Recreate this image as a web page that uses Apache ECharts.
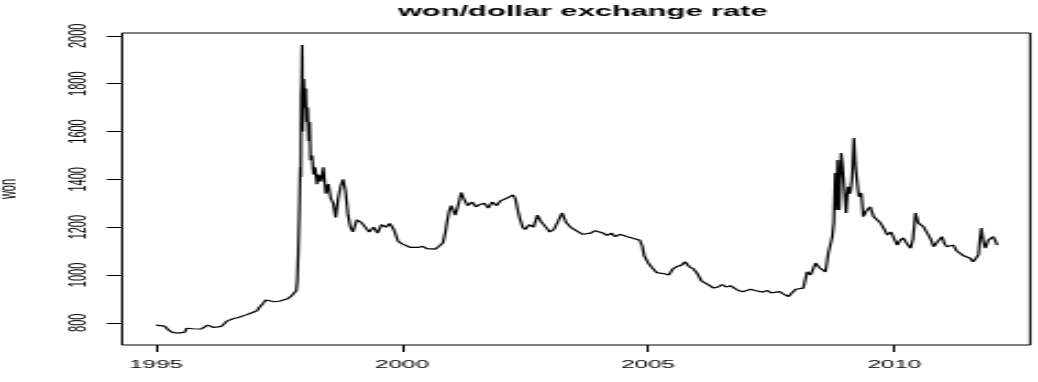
<!DOCTYPE html>
<html>
<head>
<meta charset="utf-8">
<title>won/dollar exchange rate</title>
<script src="https://cdn.jsdelivr.net/npm/echarts@6/dist/echarts.min.js"></script>
<style>
  html, body { margin: 0; padding: 0; background: #fff; overflow: hidden; }
  /* the original plot is stretched sideways, so draw narrow and widen it */
  #main { width: 472px; height: 382px; transform: scaleX(2.1992); transform-origin: 0 0; }
</style>
</head>
<body>
<div id="main"></div>
<script>
// decimal year of each reading
var years = [
  1995.00, 1995.08, 1995.17, 1995.25, 1995.33, 1995.42, 1995.50, 1995.58, 1995.62, 1995.67, 1995.75, 1995.83, 1995.92,
  1996.00, 1996.05, 1996.10, 1996.17, 1996.25, 1996.33, 1996.40, 1996.45, 1996.50, 1996.58, 1996.67, 1996.75, 1996.83, 1996.92,
  1997.00, 1997.05, 1997.10, 1997.17, 1997.23, 1997.30, 1997.40, 1997.50, 1997.58, 1997.67, 1997.75, 1997.82, 1997.85,
  1997.87, 1997.89, 1997.91, 1997.93, 1997.94, 1997.95, 1997.96, 1997.97, 1997.98, 1997.99,
  1998.00, 1998.02, 1998.04, 1998.06, 1998.08, 1998.10, 1998.12, 1998.14, 1998.17, 1998.20, 1998.23, 1998.27, 1998.30,
  1998.35, 1998.40, 1998.45, 1998.50, 1998.55, 1998.60, 1998.65, 1998.70, 1998.75, 1998.80, 1998.85, 1998.90, 1998.95,
  1999.00, 1999.08, 1999.17, 1999.25, 1999.33, 1999.42, 1999.50, 1999.58, 1999.67, 1999.75, 1999.83, 1999.92,
  2000.00, 2000.08, 2000.17, 2000.25, 2000.33, 2000.42, 2000.50, 2000.58, 2000.67, 2000.75, 2000.83, 2000.88, 2000.92, 2000.96,
  2001.00, 2001.08, 2001.15, 2001.20, 2001.25, 2001.33, 2001.42, 2001.50, 2001.58, 2001.67, 2001.75, 2001.83, 2001.92,
  2002.00, 2002.08, 2002.17, 2002.25, 2002.30, 2002.35, 2002.40, 2002.45, 2002.50, 2002.58, 2002.67, 2002.75, 2002.83, 2002.92,
  2003.00, 2003.08, 2003.17, 2003.25, 2003.33, 2003.42, 2003.50, 2003.58, 2003.67, 2003.75, 2003.83, 2003.92,
  2004.00, 2004.08, 2004.17, 2004.25, 2004.33, 2004.42, 2004.50, 2004.58, 2004.67, 2004.75, 2004.83, 2004.88, 2004.92,
  2005.00, 2005.08, 2005.17, 2005.25, 2005.33, 2005.42, 2005.50, 2005.58, 2005.67, 2005.75, 2005.83, 2005.92,
  2006.00, 2006.08, 2006.17, 2006.25, 2006.33, 2006.42, 2006.50, 2006.58, 2006.67, 2006.75, 2006.83, 2006.92,
  2007.00, 2007.08, 2007.17, 2007.25, 2007.33, 2007.42, 2007.50, 2007.58, 2007.67, 2007.75, 2007.85, 2007.92,
  2008.00, 2008.08, 2008.15, 2008.23, 2008.30, 2008.40, 2008.48, 2008.55, 2008.60, 2008.66, 2008.74, 2008.77,
  2008.80, 2008.82, 2008.85, 2008.88, 2008.92, 2008.95,
  2009.02, 2009.06, 2009.10, 2009.14, 2009.18, 2009.21, 2009.24, 2009.28, 2009.33, 2009.37, 2009.44, 2009.51,
  2009.58, 2009.65, 2009.72, 2009.80, 2009.86, 2009.93, 2009.98,
  2010.06, 2010.12, 2010.18, 2010.26, 2010.33, 2010.38, 2010.43, 2010.49, 2010.55, 2010.59, 2010.67, 2010.74,
  2010.80, 2010.88, 2010.97,
  2011.02, 2011.07, 2011.14, 2011.20, 2011.27, 2011.34, 2011.41, 2011.48, 2011.54, 2011.60, 2011.66, 2011.71,
  2011.74, 2011.77, 2011.81, 2011.85, 2011.91, 2011.96,
  2012.01, 2012.05, 2012.09
];

// won per dollar
var won = [
  790, 792, 786, 770, 760, 757, 758, 760, 777, 772, 775, 770, 774,
  778, 790, 782, 780, 782, 785, 783, 808, 812, 818, 822, 828, 833, 840,
  845, 850, 865, 880, 895, 892, 888, 890, 893, 900, 912, 920, 935,
  980, 1100, 1250, 1450, 1410, 1750, 1800, 1962, 1600, 1750,
  1820, 1700, 1780, 1640, 1700, 1560, 1640, 1480, 1500, 1420, 1450, 1380, 1420,
  1390, 1450, 1340, 1380, 1320, 1300, 1240, 1320, 1370, 1400, 1350, 1250, 1200,
  1180, 1230, 1220, 1200, 1180, 1200, 1175, 1210, 1200, 1215, 1190, 1140,
  1130, 1125, 1115, 1110, 1115, 1120, 1110, 1112, 1108, 1120, 1135, 1180, 1230, 1270,
  1290, 1250, 1300, 1345, 1320, 1290, 1305, 1285, 1295, 1300, 1280, 1305, 1290,
  1310, 1315, 1325, 1335, 1320, 1270, 1230, 1200, 1190, 1210, 1200, 1250, 1220, 1200,
  1180, 1190, 1225, 1260, 1220, 1200, 1190, 1180, 1170, 1165, 1175, 1185,
  1190, 1175, 1165, 1175, 1160, 1170, 1165, 1160, 1155, 1160, 1145, 1120, 1080,
  1050, 1030, 1010, 1015, 1005, 1000, 1025, 1035, 1040, 1055, 1035, 1025,
  1005, 975, 965, 955, 945, 950, 960, 950, 955, 945, 935, 930,
  935, 940, 935, 930, 928, 935, 925, 920, 930, 920, 910, 925,
  940, 945, 945, 1013, 1000, 1050, 1030, 1034, 1013, 1092, 1160, 1217,
  1426, 1272, 1481, 1272, 1510, 1453,
  1259, 1369, 1340, 1397, 1573, 1460, 1397, 1327, 1343, 1244, 1270, 1285,
  1244, 1251, 1217, 1190, 1167, 1180, 1175,
  1125, 1145, 1155, 1130, 1112, 1150, 1259, 1217, 1210, 1202, 1175, 1150,
  1118, 1140, 1160,
  1130, 1118, 1115, 1125, 1100, 1092, 1080, 1085, 1070, 1055, 1070, 1085,
  1150, 1196, 1140, 1112, 1146, 1150,
  1160, 1145, 1125
];

var yearTicks = [1995, 2000, 2005, 2010];
var wonTicks = [800, 1000, 1200, 1400, 1600, 1800, 2000];

var chart = echarts.init(document.getElementById('main'), null, { renderer: 'canvas' });

var lineData = years.map(function (y, i) { return [y, won[i]]; });

// plain numbers, no thousands separator
function plain (v) { return String(v); }

var option = {
  animation: false,
  backgroundColor: '#fff',
  textStyle: { fontFamily: 'Liberation Sans' },
  title: {
    text: 'won/dollar exchange rate',
    left: 260,
    textAlign: 'center',
    top: 0,
    textStyle: {
      fontFamily: 'Liberation Sans',
      fontWeight: 'bold',
      fontSize: 14,
      color: '#000'
    }
  },
  grid: {
    left: 55.5,
    right: 3.6,
    top: 33,
    bottom: 37,
    outerBoundsMode: 'none',
    containLabel: false,
    show: true,
    borderColor: '#000',
    borderWidth: 1,
    backgroundColor: 'transparent'
  },
  xAxis: {
    type: 'value',
    min: 1994.31,
    max: 2012.76,
    axisLine: { show: false },
    splitLine: { show: false },
    axisTick: {
      show: true,
      inside: false,
      length: 7,
      customValues: yearTicks,
      lineStyle: { color: '#000', width: 1 }
    },
    axisLabel: {
      customValues: yearTicks,
      formatter: plain,
      margin: 14,
      fontSize: 11,
      color: '#000',
      fontFamily: 'Liberation Sans'
    }
  },
  yAxis: {
    type: 'value',
    min: 707,
    max: 2012,
    name: 'won',
    nameLocation: 'middle',
    nameRotate: 90,
    nameGap: 46,
    nameTextStyle: { fontSize: 11, color: '#000', fontFamily: 'Liberation Sans' },
    axisLine: { show: false },
    splitLine: { show: false },
    axisTick: {
      show: true,
      inside: false,
      length: 7,
      customValues: wonTicks,
      lineStyle: { color: '#000', width: 1 }
    },
    axisLabel: {
      customValues: wonTicks,
      formatter: plain,
      rotate: 90,
      margin: 14,
      fontSize: 11,
      color: '#000',
      fontFamily: 'Liberation Sans'
    }
  },
  series: [{
    type: 'line',
    data: lineData,
    symbol: 'none',
    silent: true,
    lineStyle: { color: '#000', width: 1.2 }
  }]
};

chart.setOption(option);
</script>
</body>
</html>
